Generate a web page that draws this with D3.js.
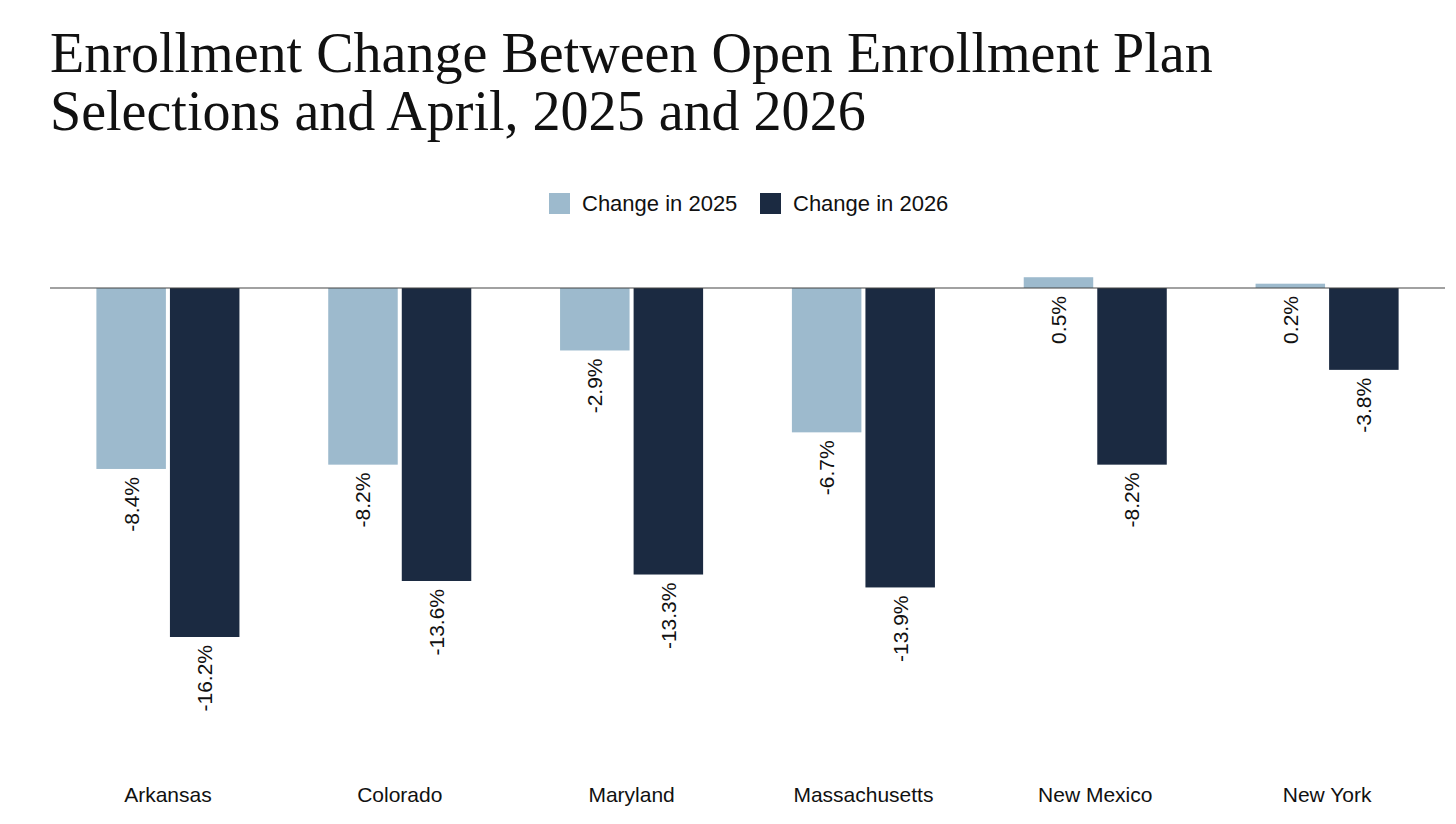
<!DOCTYPE html>
<html>
<head>
<meta charset="utf-8">
<script src="https://cdn.jsdelivr.net/npm/d3@7"></script>
<style>
  body { margin: 0; background: #fff; }
  svg { display: block; }
</style>
</head>
<body>
<svg width="1456" height="824"></svg>
<script>
// data
var states = ["Arkansas", "Colorado", "Maryland", "Massachusetts", "New Mexico", "New York"];
var series = ["Change in 2025", "Change in 2026"];
var change2025 = [-8.4, -8.2, -2.9, -6.7, 0.5, 0.2];
var change2026 = [-16.2, -13.6, -13.3, -13.9, -8.2, -3.8];
var colors = ["#9dbacd", "#1b2a41"];

var titleLines = [
  "Enrollment Change Between Open Enrollment Plan",
  "Selections and April, 2025 and 2026"
];

var svg = d3.select("svg");
var sans = "'Liberation Sans', Arial, sans-serif";

//タイトル
var title = svg.append("g");
title.selectAll("text")
  .data(titleLines)
  .enter()
  .append("text")
  .attr("x", 50)
  .attr("y", function(d, i) { return 72 + i * 58; })
  .attr("font-family", "'Liberation Serif', 'DejaVu Serif', serif")
  .attr("font-size", "54px")
  .attr("fill", "#111")
  .text(function(d) { return d; });

// 1行目の幅に合わせて文字サイズ調整
var w = title.select("text").node().getComputedTextLength();
var fs = 54 * 1163 / w;
title.selectAll("text").attr("font-size", fs + "px");

//凡例
var legendX = [549, 760];
var legend = svg.append("g")
  .selectAll("g")
  .data(series)
  .enter()
  .append("g")
  .attr("transform", function(d, i) { return "translate(" + legendX[i] + ",193)"; });

legend.append("rect")
  .attr("width", 21)
  .attr("height", 21)
  .attr("fill", function(d, i) { return colors[i]; });

legend.append("text")
  .attr("x", 33)
  .attr("y", 18)
  .attr("font-family", sans)
  .attr("font-size", "22px")
  .attr("fill", "#111")
  .text(function(d) { return d; });

// scales
var x0 = d3.scaleBand()
  .domain(states)
  .range([52, 1443])
  .paddingInner(0.383)
  .paddingOuter(0.1915);

var x1 = d3.scaleBand()
  .domain(series)
  .range([0, x0.bandwidth()])
  .paddingInner(0.055);

var y = d3.scaleLinear()
  .domain([0, -16.2])
  .range([288, 637]);

var rows = states.map(function(s, i) {
  return { state: s, values: [change2025[i], change2026[i]] };
});

//棒グラフ
var groups = svg.append("g")
  .selectAll("g")
  .data(rows)
  .enter()
  .append("g")
  .attr("transform", function(d) { return "translate(" + x0(d.state) + ",0)"; });

var bars = groups.selectAll("g")
  .data(function(d) {
    return d.values.map(function(v, i) { return { key: series[i], value: v, idx: i }; });
  })
  .enter()
  .append("g");

bars.append("rect")
  .attr("x", function(d) { return x1(d.key); })
  .attr("y", function(d) { return Math.min(y(d.value), y(0)); })
  .attr("width", x1.bandwidth())
  .attr("height", function(d) { return Math.abs(y(d.value) - y(0)); })
  .attr("fill", function(d) { return colors[d.idx]; });

//数値ラベル（縦書き）
bars.append("text")
  .attr("transform", function(d) {
    var cx = x1(d.key) + x1.bandwidth() / 2;
    var cy = Math.max(y(d.value), y(0)) + 8;
    return "translate(" + cx + "," + cy + ") rotate(-90)";
  })
  .attr("text-anchor", "end")
  .attr("dy", ".35em")
  .attr("font-family", sans)
  .attr("font-size", "21px")
  .attr("fill", "#111")
  .text(function(d) { return d.value.toFixed(1) + "%"; });

// ゼロ線
svg.append("line")
  .attr("x1", 50)
  .attr("x2", 1445)
  .attr("y1", y(0))
  .attr("y2", y(0))
  .attr("stroke", "#444")
  .attr("stroke-width", 1.2);

// x軸ラベル
var xAxis = svg.append("g")
  .attr("transform", "translate(0,780)")
  .call(d3.axisBottom(x0).tickSize(0).tickPadding(0));

xAxis.select(".domain").remove();
xAxis.selectAll("text")
  .attr("dy", "22px")
  .attr("font-family", sans)
  .attr("font-size", "21px")
  .attr("fill", "#111");
</script>
</body>
</html>
